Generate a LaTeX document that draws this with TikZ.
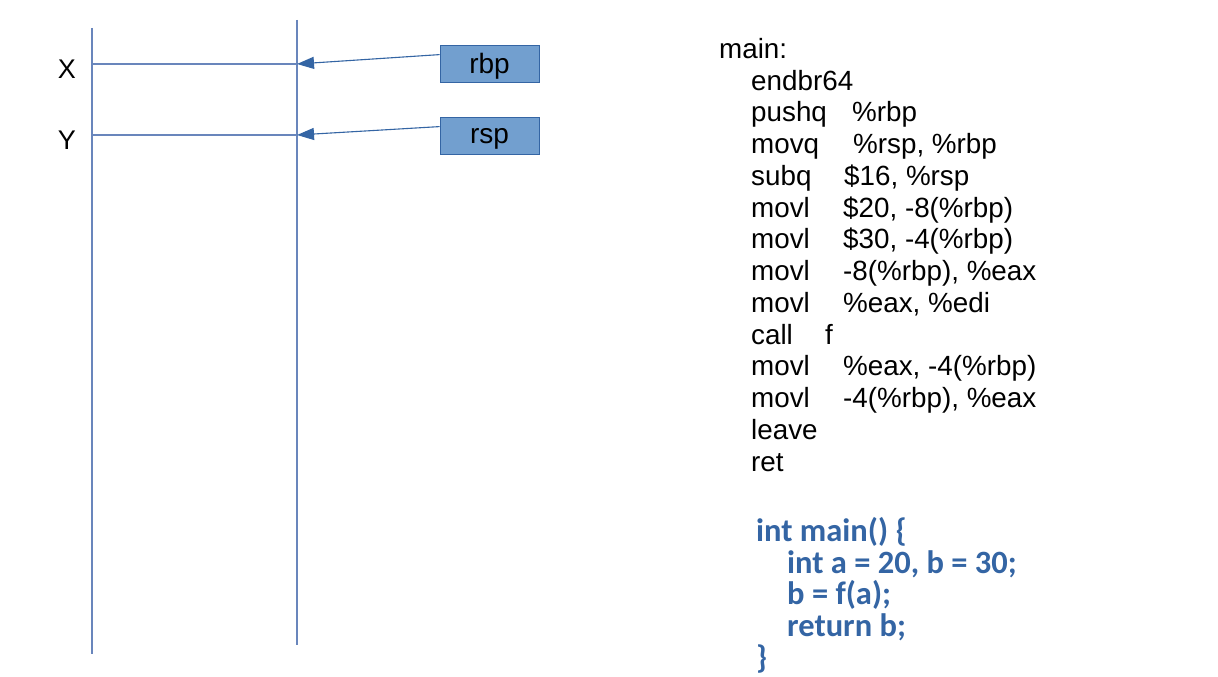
\documentclass[tikz,border=0pt]{standalone}
\usepackage{fontspec}
\setmainfont{Liberation Sans}
\newfontfamily\codefont{Carlito}
\usetikzlibrary{arrows.meta}
\definecolor{stackline}{RGB}{105,134,188}
\definecolor{regfill}{RGB}{114,159,207}
\definecolor{regedge}{RGB}{52,101,164}
\definecolor{srcblue}{RGB}{52,101,164}
\begin{document}
\begin{tikzpicture}[x=1pt,y=-1pt,
  wall/.style={draw=stackline,line width=1.1pt},
  ptr/.style={draw=regedge,line width=1.1pt,-{Triangle[length=17pt,width=12pt]}},
  reg/.style={draw=regedge,fill=regfill,line width=0.8pt,minimum width=99pt,minimum height=37pt,inner sep=0pt,text depth=0pt,font=\fontsize{28}{30}\selectfont},
  lbl/.style={inner sep=0pt,font=\fontsize{27}{30}\selectfont},
  asm/.style={inner sep=0pt,anchor=base west,font=\fontsize{27.8}{32}\selectfont},
  src/.style={inner sep=0pt,anchor=base west,text=srcblue,font=\codefont\bfseries\fontsize{32.5}{34}\selectfont}]
\useasboundingbox[fill=white] (0,0) rectangle (1218,677);

% stack frame walls
\coordinate (l1) at (92,28);   \coordinate (l2) at (92,654);
\coordinate (r1) at (297,20);  \coordinate (r2) at (297,645);
\draw[wall] (l1) -- (l2);
\draw[wall] (r1) -- (r2);

% slot boundaries X and Y
\coordinate (xa) at (92,64);  \coordinate (xb) at (297,64);
\coordinate (ya) at (92,135); \coordinate (yb) at (297,135);
\draw[wall] (xa) -- (xb);
\draw[wall] (ya) -- (yb);
\node[lbl] (X) at (67,69) {X};
\node[lbl] (Y) at (67,140) {Y};

% registers
\node[reg] (rbp) at (489.5,63.5) {rbp};
\node[reg] (rsp) at (489.5,135.5) {rsp};
\draw[ptr] ([yshift=-10pt]rbp.north west) -- (xb);
\draw[ptr] ([yshift=-10pt]rsp.north west) -- (yb);

% assembly listing
\node[asm] (m0) at (719,59) {main:};
\node[asm] (a1) at (751,90) {endbr64};
\node[asm] (a2) at (751,121.75) {pushq};    \node[asm] (o2) at (852,121.75) {\%rbp};
\node[asm] (a3) at (751,153.5) {movq};      \node[asm] (o3) at (853,153.5) {\%rsp, \%rbp};
\node[asm] (a4) at (751,185.25) {subq};     \node[asm] (o4) at (844,185.25) {\$16, \%rsp};
\node[asm] (a5) at (751,217) {movl};        \node[asm] (o5) at (843,217) {\$20, -8(\%rbp)};
\node[asm] (a6) at (751,248.75) {movl};     \node[asm] (o6) at (843,248.75) {\$30, -4(\%rbp)};
\node[asm] (a7) at (751,280.5) {movl};      \node[asm] (o7) at (843,280.5) {-8(\%rbp), \%eax};
\node[asm] (a8) at (751,312.25) {movl};     \node[asm] (o8) at (843,312.25) {\%eax, \%edi};
\node[asm] (a9) at (751,344) {call};        \node[asm] (o9) at (825,344) {f};
\node[asm] (a10) at (751,375.75) {movl};    \node[asm] (o10) at (843,375.75) {\%eax, -4(\%rbp)};
\node[asm] (a11) at (751,407.5) {movl};     \node[asm] (o11) at (843,407.5) {-4(\%rbp), \%eax};
\node[asm] (a12) at (751,439.25) {leave};
\node[asm] (a13) at (751,471) {ret};

% C source
\node[src] (c1) at (756,541.5) {int main() \{};
\node[src] (c2) at (787,573) {int a = 20, b = 30;};
\node[src] (c3) at (787,604.5) {b = f(a);};
\node[src] (c4) at (787,636.5) {return b;};
\node[src] (c5) at (756,668) {\}};
\end{tikzpicture}
\end{document}
